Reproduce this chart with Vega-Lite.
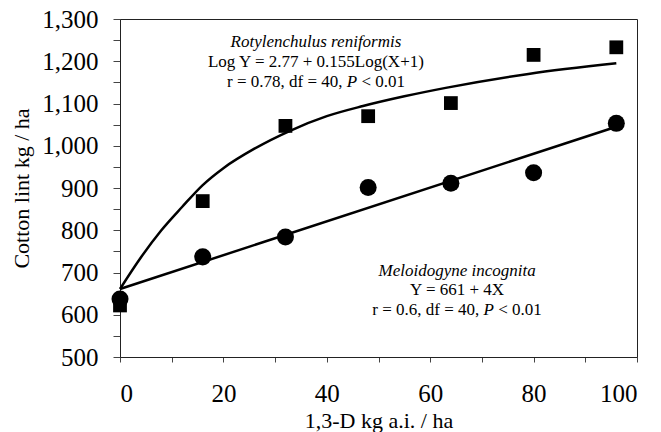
{
  "$schema": "https://vega.github.io/schema/vega-lite/v6.json",
  "width": 517,
  "height": 338,
  "autosize": "none",
  "padding": {"left": 120, "top": 19, "right": 24, "bottom": 75},
  "background": "#ffffff",
  "view": {"stroke": "#222222", "strokeWidth": 1},
  "config": {
    "font": "Liberation Serif",
    "axis": {
      "labelFont": "Liberation Serif",
      "titleFont": "Liberation Serif",
      "labelColor": "#000000",
      "titleColor": "#000000",
      "domainColor": "#222222",
      "tickColor": "#444444",
      "grid": false,
      "titleFontWeight": "normal"
    }
  },
  "encoding": {
    "x": {
      "field": "dose",
      "type": "quantitative",
      "scale": {"domain": [0, 100], "nice": false},
      "axis": {
        "title": "1,3-D kg a.i. / ha",
        "titleFontSize": 22,
        "titlePadding": 4,
        "values": [0, 10, 20, 30, 40, 50, 60, 70, 80, 90, 100],
        "labelExpr": "datum.value % 20 == 0 ? datum.label : ''",
        "labelFontSize": 25,
        "tickSize": 5,
        "labelPadding": 19
      }
    },
    "y": {
      "field": "lint",
      "type": "quantitative",
      "scale": {"domain": [500, 1300], "nice": false, "zero": false},
      "axis": {
        "title": "Cotton lint kg / ha",
        "titleFontSize": 22,
        "titlePadding": 8,
        "values": [500, 550, 600, 650, 700, 750, 800, 850, 900, 950, 1000, 1050, 1100, 1150, 1200, 1250, 1300],
        "labelExpr": "datum.value % 100 == 0 ? format(datum.value, ',') : ''",
        "labelFontSize": 25,
        "tickSize": 7,
        "labelPadding": 15
      }
    }
  },
  "layer": [
    {
      "data": {
        "values": [
          {"nematode": "Rotylenchulus reniformis", "dose": 0, "lint": 661},
          {"nematode": "Rotylenchulus reniformis", "dose": 4, "lint": 735},
          {"nematode": "Rotylenchulus reniformis", "dose": 8, "lint": 800},
          {"nematode": "Rotylenchulus reniformis", "dose": 12, "lint": 855},
          {"nematode": "Rotylenchulus reniformis", "dose": 16, "lint": 907},
          {"nematode": "Rotylenchulus reniformis", "dose": 20, "lint": 947},
          {"nematode": "Rotylenchulus reniformis", "dose": 26, "lint": 993},
          {"nematode": "Rotylenchulus reniformis", "dose": 33, "lint": 1036},
          {"nematode": "Rotylenchulus reniformis", "dose": 40, "lint": 1070},
          {"nematode": "Rotylenchulus reniformis", "dose": 47, "lint": 1094},
          {"nematode": "Rotylenchulus reniformis", "dose": 55, "lint": 1117},
          {"nematode": "Rotylenchulus reniformis", "dose": 63, "lint": 1137},
          {"nematode": "Rotylenchulus reniformis", "dose": 79, "lint": 1170},
          {"nematode": "Rotylenchulus reniformis", "dose": 96, "lint": 1195},
          {"nematode": "Meloidogyne incognita", "dose": 0, "lint": 661},
          {"nematode": "Meloidogyne incognita", "dose": 96, "lint": 1045}
        ]
      },
      "mark": {"type": "line", "color": "#000000", "strokeWidth": 2.5, "interpolate": "monotone"},
      "encoding": {"detail": {"field": "nematode"}}
    },
    {
      "data": {
        "values": [
          {"nematode": "Rotylenchulus reniformis", "dose": 0, "lint": 622},
          {"nematode": "Rotylenchulus reniformis", "dose": 16, "lint": 869},
          {"nematode": "Rotylenchulus reniformis", "dose": 32, "lint": 1047},
          {"nematode": "Rotylenchulus reniformis", "dose": 48, "lint": 1070},
          {"nematode": "Rotylenchulus reniformis", "dose": 64, "lint": 1101},
          {"nematode": "Rotylenchulus reniformis", "dose": 80, "lint": 1215},
          {"nematode": "Rotylenchulus reniformis", "dose": 96, "lint": 1233},
          {"nematode": "Meloidogyne incognita", "dose": 0, "lint": 637},
          {"nematode": "Meloidogyne incognita", "dose": 16, "lint": 737},
          {"nematode": "Meloidogyne incognita", "dose": 32, "lint": 784},
          {"nematode": "Meloidogyne incognita", "dose": 48, "lint": 901},
          {"nematode": "Meloidogyne incognita", "dose": 64, "lint": 911},
          {"nematode": "Meloidogyne incognita", "dose": 80, "lint": 936},
          {"nematode": "Meloidogyne incognita", "dose": 96, "lint": 1053}
        ]
      },
      "mark": {"type": "point", "filled": true, "color": "#000000", "opacity": 1},
      "encoding": {
        "shape": {
          "field": "nematode",
          "scale": {"domain": ["Rotylenchulus reniformis", "Meloidogyne incognita"], "range": ["square", "circle"]},
          "legend": null
        },
        "size": {
          "field": "nematode",
          "scale": {"domain": ["Rotylenchulus reniformis", "Meloidogyne incognita"], "range": [190, 290]},
          "legend": null
        }
      }
    },
    {
      "data": {
        "values": [
          {"dose": 37.9, "lint": 1246, "note": "Rotylenchulus reniformis"},
          {"dose": 65.2, "lint": 704, "note": "Meloidogyne incognita"}
        ]
      },
      "mark": {"type": "text", "fontSize": 17, "fontStyle": "italic", "align": "center", "baseline": "middle", "color": "#000000"},
      "encoding": {"text": {"field": "note"}}
    },
    {
      "data": {
        "values": [
          {"dose": 37.9, "lint": 1198, "note": "Log Y = 2.77 + 0.155Log(X+1)"},
          {"dose": 65.2, "lint": 659, "note": "Y = 661 + 4X"}
        ]
      },
      "mark": {"type": "text", "fontSize": 17, "align": "center", "baseline": "middle", "color": "#000000"},
      "encoding": {"text": {"field": "note"}}
    },
    {
      "data": {
        "values": [
          {"dose": 43.04, "lint": 1151, "note": "r = 0.78, df = 40,"},
          {"dose": 69.5, "lint": 611, "note": "r = 0.6, df = 40,"}
        ]
      },
      "mark": {"type": "text", "fontSize": 17, "align": "right", "baseline": "middle", "color": "#000000"},
      "encoding": {"text": {"field": "note"}}
    },
    {
      "data": {
        "values": [
          {"dose": 44.87, "lint": 1151, "note": "P"},
          {"dose": 71.3, "lint": 611, "note": "P"}
        ]
      },
      "mark": {"type": "text", "fontSize": 17, "fontStyle": "italic", "align": "center", "baseline": "middle", "color": "#000000"},
      "encoding": {"text": {"field": "note"}}
    },
    {
      "data": {
        "values": [
          {"dose": 46.69, "lint": 1151, "note": "< 0.01"},
          {"dose": 73.15, "lint": 611, "note": "< 0.01"}
        ]
      },
      "mark": {"type": "text", "fontSize": 17, "align": "left", "baseline": "middle", "color": "#000000"},
      "encoding": {"text": {"field": "note"}}
    }
  ]
}
